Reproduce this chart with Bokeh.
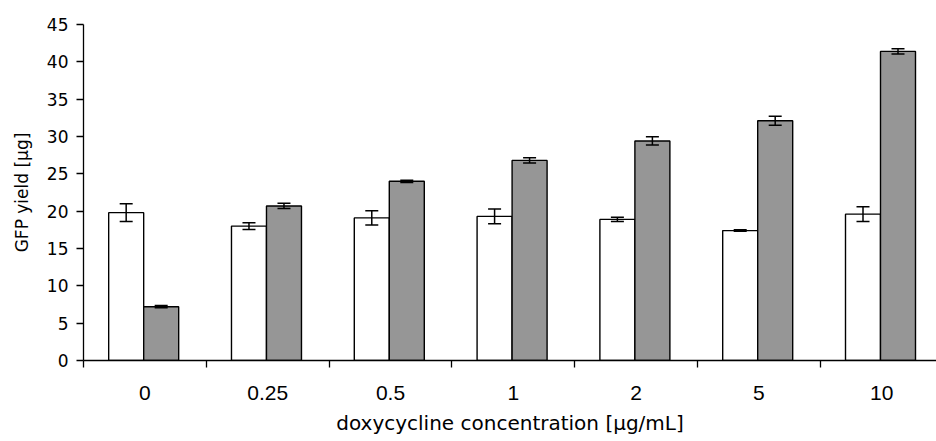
from bokeh.plotting import figure
from bokeh.models import ColumnDataSource, Range1d, FixedTicker, Whisker, TeeHead
from bokeh.embed import file_html
from bokeh.resources import INLINE

categories = ["0", "0.25", "0.5", "1", "2", "5", "10"]
white_vals = [19.8, 18.0, 19.1, 19.3, 18.9, 17.4, 19.6]
white_err = [1.2, 0.45, 0.95, 1.0, 0.3, 0.1, 1.0]
gray_vals = [7.2, 20.7, 24.0, 26.8, 29.4, 32.1, 41.4]
gray_err = [0.15, 0.35, 0.15, 0.35, 0.55, 0.6, 0.35]
y_ticks = [0, 5, 10, 15, 20, 25, 30, 35, 40, 45]

FONT = "Liberation Sans"
WIDE = "DejaVu Sans"
n = len(categories)
bar_w = 0.285
center = 0.49
idx = list(range(n))
xw = [i + center - bar_w / 2 for i in idx]
xg = [i + center + bar_w / 2 for i in idx]

src_w = ColumnDataSource(dict(x=xw, top=white_vals,
                              upper=[v + e for v, e in zip(white_vals, white_err)],
                              lower=[v - e for v, e in zip(white_vals, white_err)]))
src_g = ColumnDataSource(dict(x=xg, top=gray_vals,
                              upper=[v + e for v, e in zip(gray_vals, gray_err)],
                              lower=[v - e for v, e in zip(gray_vals, gray_err)]))

p = figure(width=936, height=441, output_backend="svg", toolbar_location=None,
           x_range=Range1d(0, 6.946), y_range=Range1d(0, 45),
           min_border_left=83, min_border_right=0, min_border_top=24, min_border_bottom=81)
p.outline_line_color = None
p.xgrid.visible = False
p.ygrid.visible = False

p.vbar(x="x", top="top", bottom=0, width=bar_w, source=src_w,
       fill_color="white", line_color="black", line_width=1.4)
p.vbar(x="x", top="top", bottom=0, width=bar_w, source=src_g,
       fill_color="#969696", line_color="black", line_width=1.4)

for s in (src_w, src_g):
    w = Whisker(base="x", upper="upper", lower="lower", source=s,
                line_color="black", line_width=1.5, level="overlay",
                upper_head=TeeHead(size=13, line_color="black", line_width=1.5),
                lower_head=TeeHead(size=13, line_color="black", line_width=1.5))
    p.add_layout(w)

centers = [i + 0.5 for i in idx]
p.xaxis.ticker = FixedTicker(ticks=centers, minor_ticks=list(range(n + 1)))
p.xaxis.major_label_overrides = {c: lab for c, lab in zip(centers, categories)}
p.xaxis.major_tick_out = 0
p.xaxis.major_tick_in = 0
p.xaxis.minor_tick_out = 7
p.xaxis.minor_tick_in = 0
p.xaxis.major_label_standoff = 18
p.xaxis.major_label_text_font = FONT
p.xaxis.major_label_text_font_size = "21px"
p.xaxis.major_label_text_color = "black"
p.xaxis.axis_label = "doxycycline concentration [\u03bcg/mL]"
p.xaxis.axis_label_text_font = WIDE
p.xaxis.axis_label_text_font_size = "20px"
p.xaxis.axis_label_text_font_style = "normal"
p.xaxis.axis_label_text_color = "black"
p.xaxis.axis_label_standoff = 8
p.xaxis.axis_line_color = "black"
p.xaxis.axis_line_width = 1.3
p.xaxis.minor_tick_line_color = "black"
p.xaxis.minor_tick_line_width = 1.3

p.yaxis.ticker = FixedTicker(ticks=y_ticks, minor_ticks=[])
p.yaxis.major_tick_out = 7
p.yaxis.major_tick_in = 0
p.yaxis.major_label_standoff = 8
p.yaxis.major_label_text_font = WIDE
p.yaxis.major_label_text_font_size = "17px"
p.yaxis.major_label_text_color = "black"
p.yaxis.axis_label = "GFP yield [\u03bcg]"
p.yaxis.axis_label_text_font = WIDE
p.yaxis.axis_label_text_font_size = "17px"
p.yaxis.axis_label_text_font_style = "normal"
p.yaxis.axis_label_text_color = "black"
p.yaxis.axis_label_standoff = 12
p.yaxis.axis_line_color = "black"
p.yaxis.axis_line_width = 1.3
p.yaxis.major_tick_line_color = "black"
p.yaxis.major_tick_line_width = 1.3

open("out.html", "w").write(file_html(p, INLINE))
